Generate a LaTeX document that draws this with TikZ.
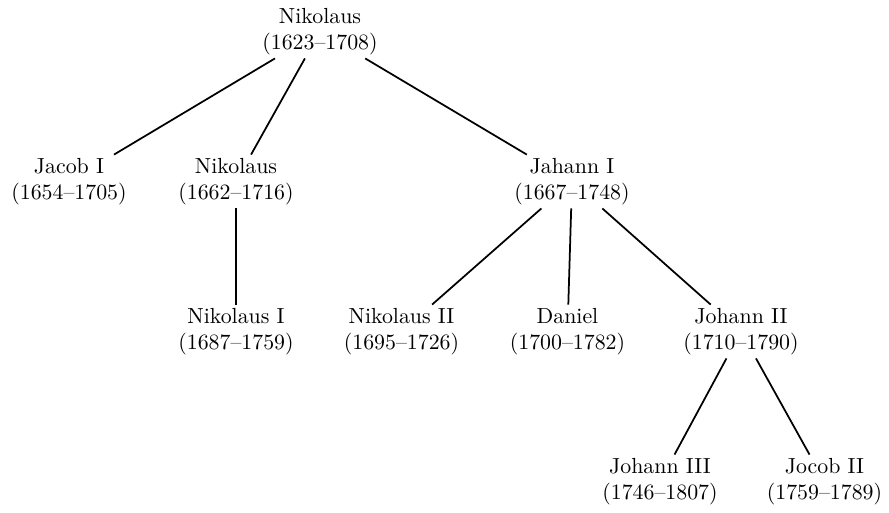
\documentclass[tikz,border=0pt]{standalone}
\begin{document}
\begin{tikzpicture}[x=0.4577pt,y=-0.4577pt,
  person/.style={align=center, inner sep=1.4pt},
  link/.style={line width=0.8pt}]
\useasboundingbox (0,0) rectangle (889,512);
\node[person] (root)   at (320,31.5)  {Nikolaus\\(1623--1708)};
\node[person] (jacob)  at (69,181.5)  {Jacob I\\(1654--1705)};
\node[person] (nik)    at (236,181.5) {Nikolaus\\(1662--1716)};
\node[person] (jah)    at (572,181.5) {Jahann I\\(1667--1748)};
\node[person] (nik1)   at (236,331.5) {Nikolaus I\\(1687--1759)};
\node[person] (nik2)   at (401.5,331.5) {Nikolaus II\\(1695--1726)};
\node[person] (daniel) at (567.5,331.5) {Daniel\\(1700--1782)};
\node[person] (joh2)   at (741,331.5) {Johann II\\(1710--1790)};
\node[person] (joh3)   at (660,481.5) {Johann III\\(1746--1807)};
\node[person] (jocob)  at (824.5,481.5) {Jocob II\\(1759--1789)};
\draw[link] (root) -- (jacob);
\draw[link] (root) -- (nik);
\draw[link] (root) -- (jah);
\draw[link] (nik) -- (nik1);
\draw[link] (jah) -- (nik2);
\draw[link] (jah) -- (daniel);
\draw[link] (jah) -- (joh2);
\draw[link] (joh2) -- (joh3);
\draw[link] (joh2) -- (jocob);
\end{tikzpicture}
\end{document}
